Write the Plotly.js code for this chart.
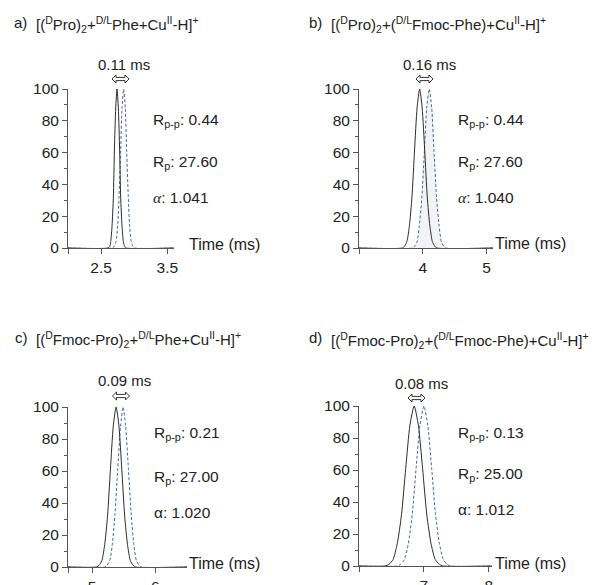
<!DOCTYPE html>
<html><head><meta charset="utf-8">
<script src="https://cdn.plot.ly/plotly-3.0.1.min.js"></script>
<style>html,body{margin:0;padding:0;background:#fff}</style>
</head><body>
<div id="chart" style="width:593px;height:585px"></div>
<script>
// ---- data ----
const aBlackX = [2.0, 2.60, 2.63, 2.645, 2.665, 2.685, 2.70, 2.72, 2.74, 2.76, 2.78, 2.795, 2.815, 2.835, 2.855, 2.88, 3.6];
const aBlackY = [0, 0, 1, 4, 14, 32, 61, 88, 100, 88, 61, 32, 14, 4, 1, 0, 0];
const aBlueX  = [2.0, 2.67, 2.70, 2.725, 2.75, 2.77, 2.795, 2.815, 2.84, 2.865, 2.885, 2.91, 2.93, 2.955, 2.98, 3.01, 3.6];
const aBlueY  = [0, 0, 1, 4, 14, 32, 61, 88, 100, 88, 61, 32, 14, 4, 1, 0, 0];

const bBlackX = [3.0, 3.68, 3.71, 3.75, 3.79, 3.83, 3.87, 3.91, 3.95, 3.99, 4.03, 4.07, 4.11, 4.15, 4.19, 4.22, 5.1];
const bBlackY = [0, 0, 1, 4, 14, 32, 61, 88, 100, 88, 61, 32, 14, 4, 1, 0, 0];
const bBlueX  = [3.0, 3.84, 3.87, 3.91, 3.945, 3.985, 4.025, 4.06, 4.10, 4.14, 4.175, 4.215, 4.255, 4.29, 4.33, 4.36, 5.1];
const bBlueY  = [0, 0, 1, 4, 14, 32, 61, 88, 100, 88, 61, 32, 14, 4, 1, 0, 0];

const cBlackX = [4.62, 5.07, 5.11, 5.155, 5.20, 5.245, 5.29, 5.335, 5.38, 5.425, 5.47, 5.515, 5.56, 5.605, 5.65, 5.69, 6.5];
const cBlackY = [0, 0, 1, 4, 14, 32, 61, 88, 100, 88, 61, 32, 14, 4, 1, 0, 0];
const cBlueX  = [4.62, 5.20, 5.235, 5.28, 5.32, 5.36, 5.405, 5.45, 5.49, 5.53, 5.575, 5.62, 5.66, 5.70, 5.745, 5.78, 6.5];
const cBlueY  = [0, 0, 1, 4, 14, 32, 61, 88, 100, 88, 61, 32, 14, 4, 1, 0, 0];

const dBlackX = [6.0, 6.40, 6.46, 6.525, 6.59, 6.655, 6.72, 6.785, 6.85, 6.915, 6.98, 7.045, 7.11, 7.175, 7.24, 7.30, 8.05];
const dBlackY = [0, 0, 1, 4, 14, 32, 61, 88, 100, 88, 61, 32, 14, 4, 1, 0, 0];
const dBlueX  = [6.0, 6.59, 6.64, 6.70, 6.76, 6.82, 6.88, 6.94, 7.00, 7.06, 7.12, 7.18, 7.24, 7.30, 7.36, 7.41, 8.05];
const dBlueY  = [0, 0, 1, 4, 14, 32, 61, 88, 100, 88, 61, 32, 14, 4, 1, 0, 0];

const panelLetters = ['a)', 'b)', 'c)', 'd)'];
const panelTitles = [
  '[(<sup>D</sup>Pro)<sub>2</sub>+<sup>D/L</sup>Phe+Cu<sup>II</sup>-H]<sup>+</sup>',
  '[(<sup>D</sup>Pro)<sub>2</sub>+(<sup>D/L</sup>Fmoc-Phe)+Cu<sup>II</sup>-H]<sup>+</sup>',
  '[(<sup>D</sup>Fmoc-Pro)<sub>2</sub>+<sup>D/L</sup>Phe+Cu<sup>II</sup>-H]<sup>+</sup>',
  '[(<sup>D</sup>Fmoc-Pro)<sub>2</sub>+(<sup>D/L</sup>Fmoc-Phe)+Cu<sup>II</sup>-H]<sup>+</sup>'
];
const shiftLabels = ['0.11 ms', '0.16 ms', '0.09 ms', '0.08 ms'];
const rppValues = ['0.44', '0.44', '0.21', '0.13'];
const rpValues = ['27.60', '27.60', '27.00', '25.00'];
const alphaValues = ['1.041', '1.040', '1.020', '1.012'];
const xTickVals = [[2.0, 2.5, 3.5], [3.0, 4, 5], [4.62, 5, 6], [6.0, 7, 8]];
const xTickText = [['', '2.5', '3.5'], ['', '4', '5'], ['', '5', '6'], ['', '7', '8']];
const xRanges = [[2.0, 3.6], [3.0, 5.1], [4.62, 6.5], [6.0, 8.05]];
const yTickVals = [0, 20, 40, 60, 80, 100];

// ---- layout geometry (pixels) ----
const W = 593, H = 585;
const PX = v => v / W;
const PY = v => 1 - v / H;
const boxes = [ // [left, right, top, bottom] in px
  [68, 174, 89, 248],
  [359, 493, 89, 248],
  [68, 187, 407, 567],
  [359, 492, 406, 566]
];
const FONT = 'Liberation Sans, Arial, sans-serif';
const AX = '#555';
const BLACK = '#2b2b2b';
const BLUE = '#4a64a8';

const series = [
  [aBlackX, aBlackY, aBlueX, aBlueY],
  [bBlackX, bBlackY, bBlueX, bBlueY],
  [cBlackX, cBlackY, cBlueX, cBlueY],
  [dBlackX, dBlackY, dBlueX, dBlueY]
];

const traces = [];
const layout = {
  width: W, height: H,
  margin: {l: 0, r: 0, t: 0, b: 0},
  paper_bgcolor: '#fff', plot_bgcolor: 'rgba(0,0,0,0)',
  showlegend: false,
  font: {family: FONT, color: '#222', size: 15},
  annotations: [], shapes: []
};

series.forEach((s, i) => {
  const n = i + 1;
  const xa = 'x' + (n === 1 ? '' : n), ya = 'y' + (n === 1 ? '' : n);
  traces.push({
    x: s[2], y: s[3], xaxis: xa, yaxis: ya, type: 'scatter', mode: 'lines',
    line: {color: BLUE, width: 1, dash: '3px,2px', shape: 'spline', smoothing: 0.6},
    fill: i === 1 ? 'tozeroy' : 'none', fillcolor: 'rgba(215,215,225,0.3)',
    hoverinfo: 'skip'
  });
  traces.push({
    x: s[0], y: s[1], xaxis: xa, yaxis: ya, type: 'scatter', mode: 'lines',
    line: {color: BLACK, width: 1, shape: 'spline', smoothing: 0.6},
    hoverinfo: 'skip'
  });
  const b = boxes[i];
  const axName = n === 1 ? '' : n;
  layout['xaxis' + axName] = {
    domain: [PX(b[0]), PX(b[1])], range: xRanges[i], anchor: ya,
    showgrid: false, zeroline: false, showline: true, linecolor: AX, linewidth: 1,
    ticks: 'outside', ticklen: 5, tickcolor: AX, tickwidth: 1,
    tickmode: 'array', tickvals: xTickVals[i], ticktext: xTickText[i],
    tickfont: {family: FONT, size: 15.5, color: '#222'}, fixedrange: true
  };
  layout['yaxis' + axName] = {
    domain: [PY(b[3]), PY(b[2])], range: [0, 100], anchor: xa,
    showgrid: false, zeroline: false, showline: true, linecolor: AX, linewidth: 1,
    ticks: 'outside', ticklen: 5, tickcolor: AX, tickwidth: 1,
    tickmode: 'array', tickvals: yTickVals,
    minor: {dtick: 10, ticks: 'outside', ticklen: 3, tickcolor: AX, showgrid: false},
    tickfont: {family: FONT, size: 15.5, color: '#222'}, fixedrange: true
  };
});

// ---- text annotations (pixel positions) ----
function ann(text, x, y, opts) {
  layout.annotations.push(Object.assign({
    text: text, xref: 'paper', yref: 'paper', x: PX(x), y: PY(y),
    xanchor: 'left', yanchor: 'middle', showarrow: false,
    font: {family: FONT, size: 15, color: '#222'}
  }, opts || {}));
}
const letterPos = [[12, 23], [307, 23], [13, 337], [307, 338]];
const titlePos = [[34, 25], [329, 25], [34, 339], [329, 340]];
const shiftPos = [[124, 64], [429, 64], [124, 380], [421, 383]];
const arrowPos = [[120.5, 79], [424.5, 79], [121, 396], [416.5, 398]];
const statX = [151, 456, 152, 456];
const statY = [[121, 162, 197], [121, 162, 197], [433, 477, 512], [433, 474, 509]];
const timePos = [[187, 244], [493, 243], [187, 563], [493, 563]];

for (let i = 0; i < 4; i++) {
  ann(panelLetters[i], letterPos[i][0], letterPos[i][1]);
  ann(panelTitles[i], titlePos[i][0], titlePos[i][1]);
  ann(shiftLabels[i], shiftPos[i][0], shiftPos[i][1], {xanchor: 'center'});
  ann('R<sub>p-p</sub>: ' + rppValues[i], statX[i], statY[i][0], {font: {family: FONT, size: 15.5, color: '#222'}});
  ann('R<sub>p</sub>: ' + rpValues[i], statX[i], statY[i][1], {font: {family: FONT, size: 15.5, color: '#222'}});
  const alpha = i < 2 ? '<i><span style="font-family:Liberation Serif, Times New Roman, serif">α</span></i>' : 'α';
  ann(alpha + ': ' + alphaValues[i], statX[i], statY[i][2], {font: {family: FONT, size: 15.5, color: '#222'}});
  ann('Time (ms)', timePos[i][0], timePos[i][1], {font: {family: FONT, size: 16, color: '#222'}});
  // hollow double arrow
  const cx = arrowPos[i][0], cy = arrowPos[i][1], L = 8.5, h = 4, hh = 4, sh = 1.6;
  const pts = [[cx - L, cy], [cx - L + h, cy - hh], [cx - L + h, cy - sh], [cx + L - h, cy - sh],
    [cx + L - h, cy - hh], [cx + L, cy], [cx + L - h, cy + hh], [cx + L - h, cy + sh],
    [cx - L + h, cy + sh], [cx - L + h, cy + hh]];
  const path = 'M' + pts.map(p => PX(p[0]).toFixed(5) + ',' + PY(p[1]).toFixed(5)).join(' L') + ' Z';
  layout.shapes.push({type: 'path', xref: 'paper', yref: 'paper', path: path,
    line: {color: '#333', width: 1}, fillcolor: '#fff'});
}

Plotly.newPlot('chart', traces, layout, {staticPlot: true, displayModeBar: false});
</script>
</body></html>
